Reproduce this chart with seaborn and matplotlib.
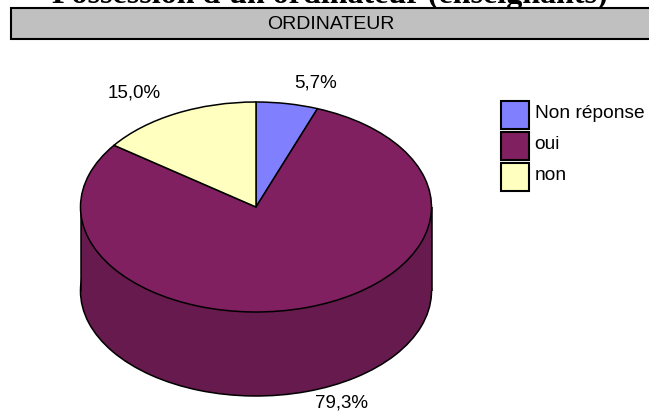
import numpy as np
import matplotlib
matplotlib.use("Agg")
import matplotlib.pyplot as plt
from matplotlib.legend_handler import HandlerPatch
from matplotlib.patches import Patch, Rectangle
import seaborn as sns

# Values
categories = ["Non réponse", "oui", "non"]
values = [5.7, 79.3, 15.0]
pct_labels = ["5,7%", "79,3%", "15,0%"]
colors = ["#8080FF", "#802060", "#FFFFC0"]
side_color = "#661A4D"

sns.set_theme(style="white")
plt.rcParams['font.family'] = ['Liberation Sans', 'DejaVu Sans']

W, H = 649, 412
cx, cy, rx, ry, depth = 256, 207, 175.5, 105, 84

fig = plt.figure(figsize=(W / 100, H / 100), dpi=100, facecolor="white")

# Pie axes: one data unit = the ellipse radius
ax = fig.add_axes([0, 0, 1, 1])
wedge_style = {"edgecolor": "black", "linewidth": 1.1}
d = depth / ry

# bottom rim, then wall, then top face
ax.pie(values, colors=[side_color] * len(values), startangle=90, counterclock=False,
       center=(0, -d), wedgeprops={**wedge_style, "zorder": 1})
xs = np.linspace(-1, 1, 200)
ax.fill_between(xs, -d, 0, color=side_color, linewidth=0, zorder=2)
ax.vlines([-1, 1], -d, 0, color="black", linewidth=1.1, zorder=2)
ax.pie(values, colors=colors, startangle=90, counterclock=False,
       center=(0, 0), wedgeprops={**wedge_style, "zorder": 3})

ax.set_aspect("auto")
ax.set_xlim(-cx / rx, (W - cx) / rx)
ax.set_ylim((cy - H) / ry, cy / ry)
ax.axis("off")

# Overlay in pixel coordinates for header, labels and legend
over = fig.add_axes([0, 0, 1, 1], facecolor="none")
over.set_xlim(0, W)
over.set_ylim(H, 0)
over.axis("off")

over.text(330, 3, "Possession d'un ordinateur (enseignants)", ha="center", va="baseline",
          fontsize=23, fontweight="bold", family=["Liberation Serif", "DejaVu Serif"],
          color="black", zorder=1)
over.add_patch(Rectangle((11, 8), 645, 31, facecolor="#C0C0C0", edgecolor="black",
                         linewidth=1.5, clip_on=False, zorder=2))
over.text(331, 24, "ORDINATEUR", ha="center", va="center", fontsize=14, color="black", zorder=3)

label_pos = [(316, 83), (341, 403), (134, 93)]
for txt, (lx, ly) in zip(pct_labels, label_pos):
    over.text(lx, ly, txt, ha="center", va="center", fontsize=13.5, color="black")


# legend boxes sit a little lower than their text
def low_box(legend, orig_handle, xdescent, ydescent, width, height, fontsize):
    return Rectangle((-xdescent, -ydescent - 2), width, height)


handles = [Patch(facecolor=c, edgecolor="black", linewidth=1.5) for c in colors]
over.legend(handles, categories, loc="upper left", bbox_to_anchor=(501 / W, 1 - 98 / H),
            frameon=False, fontsize=13.8, labelcolor="black",
            handlelength=1.46, handleheight=1.867,
            handletextpad=0.3, labelspacing=0.16, borderpad=0, borderaxespad=0,
            handler_map={Patch: HandlerPatch(patch_func=low_box)})

fig.savefig("out.png", dpi=100)
